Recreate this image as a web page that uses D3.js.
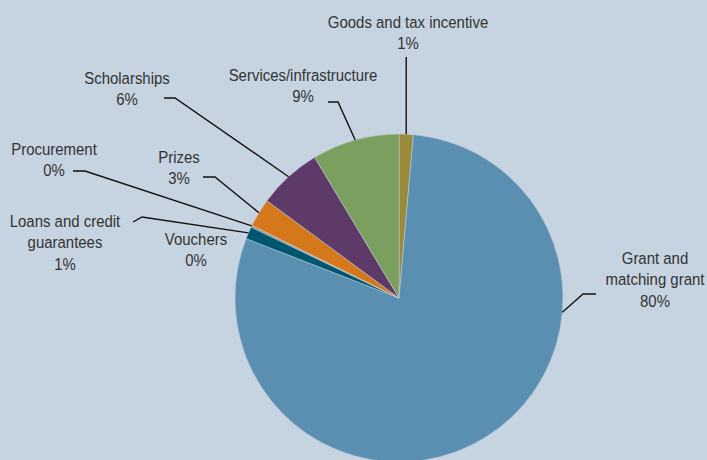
<!DOCTYPE html>
<html>
<head>
<meta charset="utf-8">
<script src="https://cdn.jsdelivr.net/npm/d3@7"></script>
<style>
  html, body { margin: 0; padding: 0; background: #c6d3e1; }
  svg { display: block; }
  text { font-family: "Liberation Sans", Arial, sans-serif; fill: #333; }
</style>
</head>
<body>
<svg id="chart" width="707" height="460"></svg>
<script>
// Share of support instruments, in drawing order (clockwise from 12 o'clock)
const categories = [
  "Goods and tax incentive",
  "Grant and matching grant",
  "Loans and credit guarantees",
  "Vouchers",
  "Procurement",
  "Prizes",
  "Scholarships",
  "Services/infrastructure"
];
const shares = [1.4, 79.5, 1.2, 0.1, 0.1, 2.8, 6.3, 8.6];
const sliceColors = ["#9a8a3b", "#5b8fb1", "#00566e", "#00566e", "#c96f1c", "#d5781b", "#5e3a69", "#7a9f5f"];

// Label text lines (the percentage line is added from the data)
const labelLines = [
  ["Goods and tax incentive"],
  ["Grant and", "matching grant"],
  ["Loans and credit", "guarantees"],
  ["Vouchers"],
  ["Procurement"],
  ["Prizes"],
  ["Scholarships"],
  ["Services/infrastructure"]
];

// Label placement: text centre x, first baseline y, and leader geometry
const labelLayout = {
  "Goods and tax incentive":     { x: 408, y: 28,  leader: "vertical", top: 57 },
  "Grant and matching grant":    { x: 655, y: 264, leader: [[596, 294], [583, 294]], edgeAngle: 95 },
  "Loans and credit guarantees": { x: 65,  y: 227, leader: [[133, 222], [142, 217]] },
  "Vouchers":                    { x: 196, y: 245, leader: null },
  "Procurement":                 { x: 54,  y: 155, leader: [[73, 171], [85, 171]] },
  "Prizes":                      { x: 179, y: 163, leader: [[203, 177], [215, 177]] },
  "Scholarships":                { x: 127, y: 84,  leader: [[164, 98], [175, 98]] },
  "Services/infrastructure":     { x: 303, y: 81,  leader: [[328, 102], [338, 102]] }
};

const svg = d3.select("#chart");
const cx = 399, cy = 298, radius = 164;
const lineHeight = 21.5;
const fontSize = 17;
const condense = 0.88;   // horizontal squeeze for a condensed look

const total = d3.sum(shares);
const data = categories.map((c, i) => ({ name: c, value: shares[i], color: sliceColors[i], lines: labelLines[i] }));

const pie = d3.pie().value(d => d.value).sort(null).startAngle(0).endAngle(2 * Math.PI);
const arcs = pie(data);
const arc = d3.arc().innerRadius(0).outerRadius(radius);

const g = svg.append("g").attr("transform", `translate(${cx},${cy})`);

g.selectAll("path.slice")
  .data(arcs)
  .join("path")
  .attr("class", "slice")
  .attr("d", arc)
  .attr("fill", d => d.data.color)
  .attr("stroke", "#c6d3e1")
  .attr("stroke-width", 0.5);

// point on the rim at an angle (radians, clockwise from 12 o'clock)
function rimPoint(a) {
  return [cx + radius * Math.sin(a), cy - radius * Math.cos(a)];
}

const labels = svg.append("g");
arcs.forEach(d => {
  const lay = labelLayout[d.data.name];
  const mid = lay.edgeAngle !== undefined ? lay.edgeAngle * Math.PI / 180 : (d.startAngle + d.endAngle) / 2;
  const edge = rimPoint(mid);

  if (lay.leader === "vertical") {
    labels.append("line")
      .attr("x1", edge[0]).attr("y1", lay.top)
      .attr("x2", edge[0]).attr("y2", edge[1])
      .attr("stroke", "#111").attr("stroke-width", 1.4);
  } else if (lay.leader) {
    labels.append("path")
      .attr("d", d3.line()([...lay.leader, edge]))
      .attr("fill", "none")
      .attr("stroke", "#111").attr("stroke-width", 1.4);
  }

  const pct = Math.round(d.data.value / total * 100) + "%";
  const lines = [...d.data.lines, pct];
  const t = labels.append("text")
    .attr("text-anchor", "middle")
    .attr("font-size", fontSize)
    .attr("transform", `translate(${lay.x},0) scale(${condense},1)`);
  lines.forEach((s, i) => {
    t.append("tspan").attr("x", 0).attr("y", lay.y + i * lineHeight).text(s);
  });
});
</script>
</body>
</html>
